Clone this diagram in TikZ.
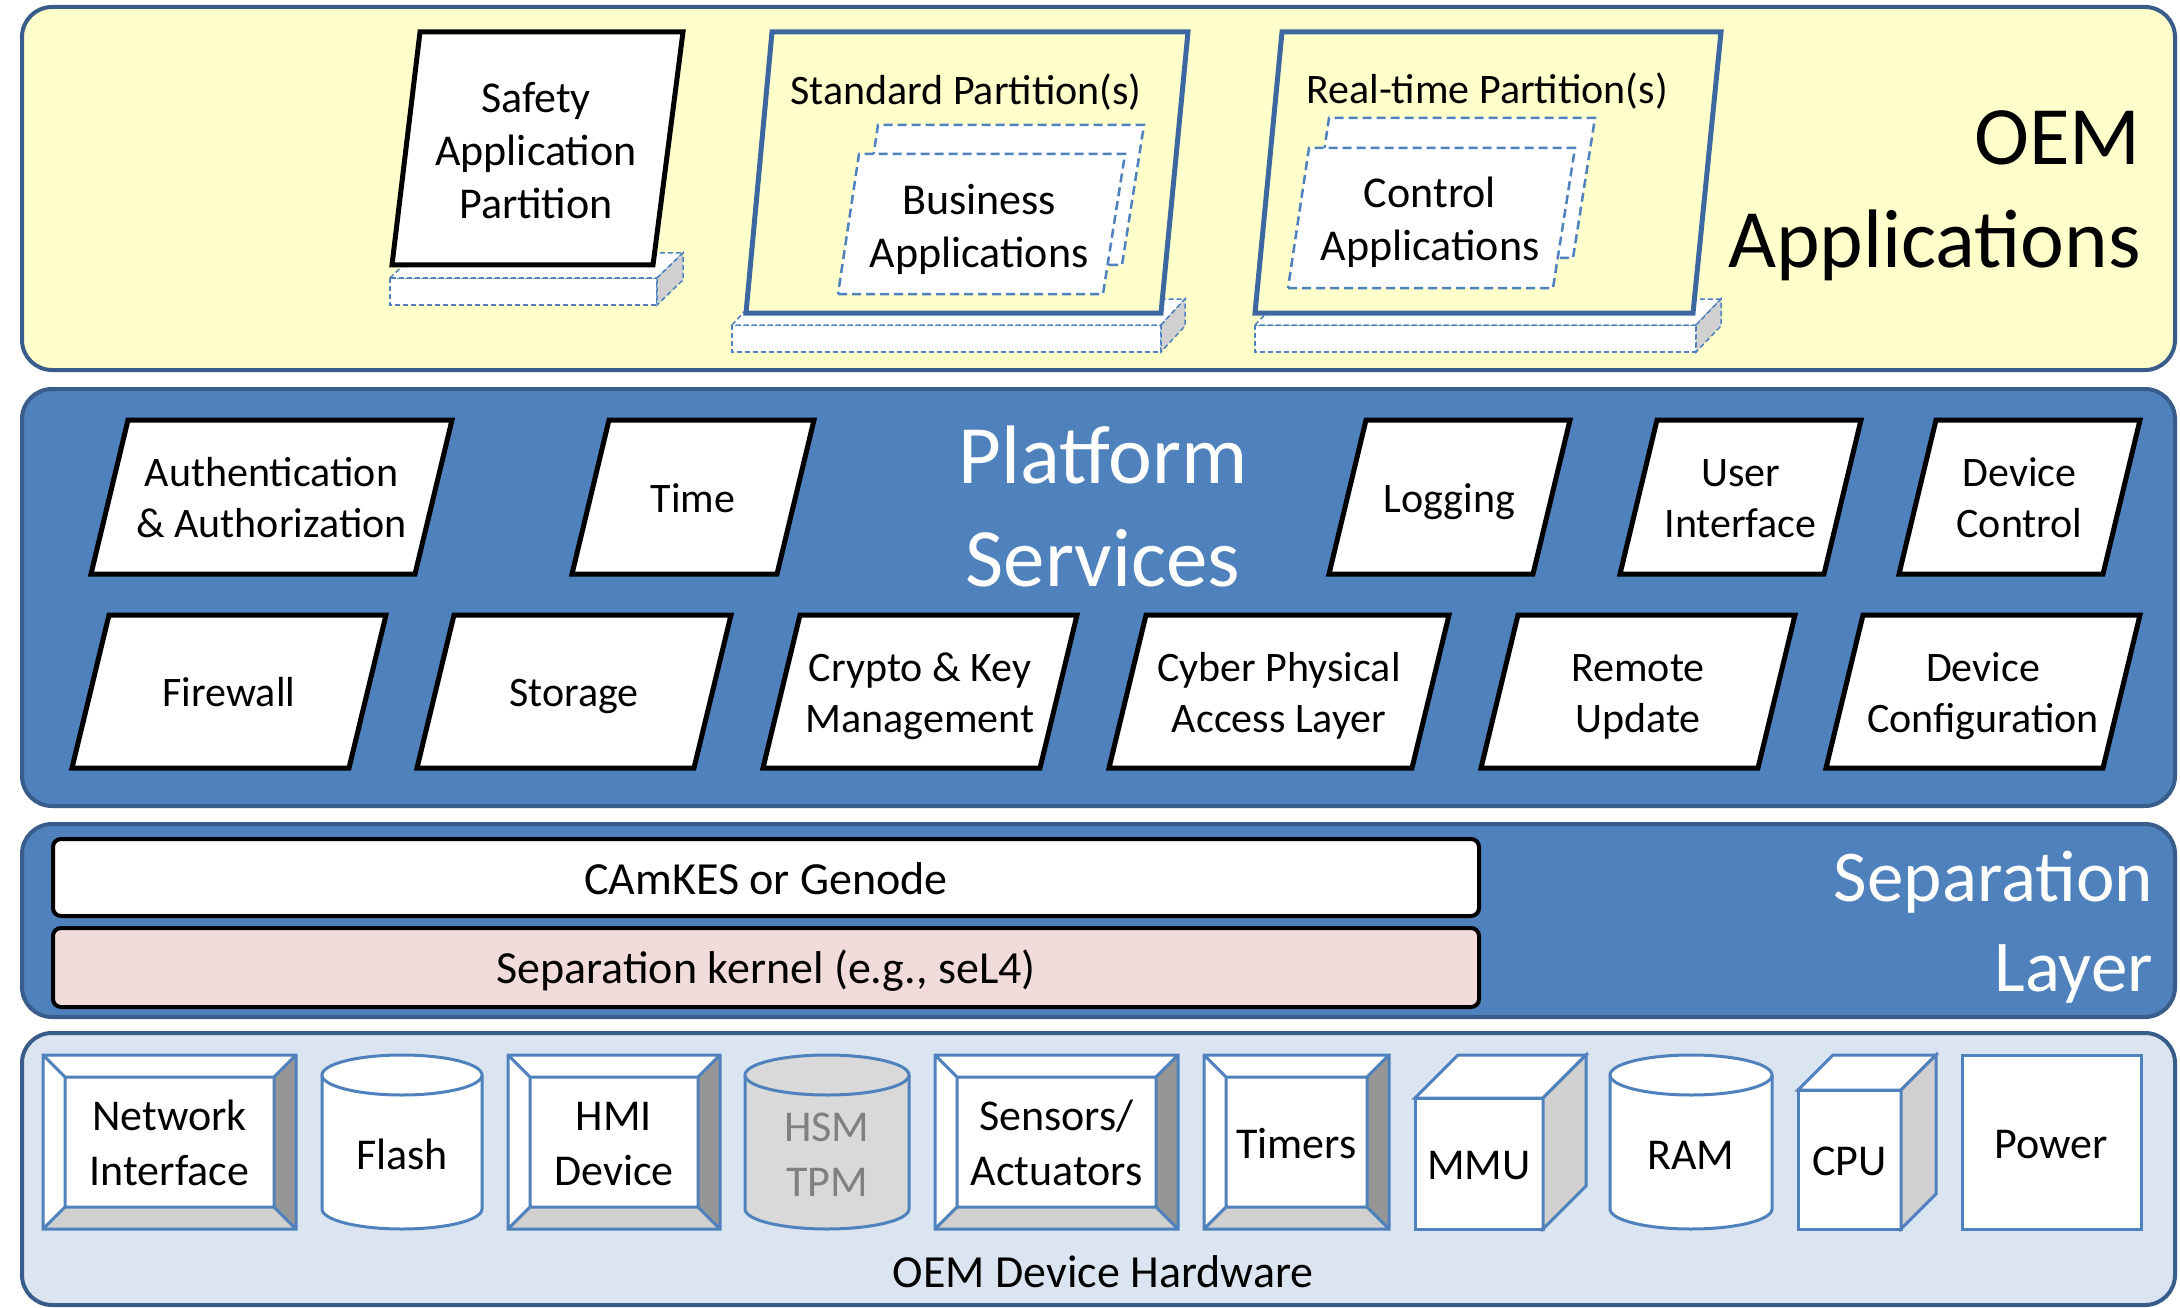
\documentclass[tikz,border=0pt]{standalone}
\usepackage{fontspec}
\setmainfont{Carlito}

\definecolor{oemyellow}{HTML}{FFFFCC}
\definecolor{layerblue}{HTML}{4F81BD}
\definecolor{layeredge}{HTML}{385D8A}
\definecolor{partedge}{HTML}{3D67A0}
\definecolor{hwfill}{HTML}{DBE5F1}
\definecolor{kernelpink}{HTML}{F2DCDB}
\definecolor{darkfacet}{HTML}{969696}
\definecolor{lightfacet}{HTML}{D0D0D0}
\definecolor{hsmgray}{HTML}{D9D9D9}
\definecolor{hsmtext}{HTML}{808080}

\tikzset{
  layer/.style={draw=layeredge, line width=4pt, rounded corners=30pt},
  svcbox/.style={draw=black, fill=white, line width=5pt, line join=miter},
  partbox/.style={line width=5pt, line join=miter},
  appbox/.style={draw=layerblue, fill=white, line width=2.5pt, dash pattern=on 9pt off 5pt},
  basebox/.style={draw=layerblue, line width=1.5pt, dash pattern=on 5pt off 3pt},
  hwline/.style={draw=layerblue, line width=3pt, line join=miter},
  sepbox/.style={draw=black, line width=4pt, rounded corners=8pt},
  svclbl/.style={inner sep=0pt, yshift=-5pt, align=center, font=\fontsize{42}{51}\selectfont},
  applbl/.style={inner sep=0pt, yshift=-4pt, align=center, font=\fontsize{44}{53}\selectfont},
  ttllbl/.style={inner sep=0pt, yshift=-4pt, align=center, font=\fontsize{42}{51}\selectfont},
  hwlbl/.style={inner sep=0pt, yshift=-5pt, align=center, font=\fontsize{44}{55}\selectfont},
  seplbl/.style={inner sep=0pt, yshift=-5pt, align=center, font=\fontsize{46}{55}\selectfont},
  biglbl/.style={inner sep=0pt, yshift=-4pt, font=\fontsize{83}{103}\selectfont},
}

% platform service: name, bottom-left x, width, top y, bottom y, text
\newcommand\svc[6]{%
  \draw[svcbox] (#2,#5) -- ({#2+#3},#5) -- ({#2+#3+37},#4) -- ({#2+37},#4) -- cycle;
  \node[svclbl] (#1) at ({#2+#3/2+18.5},{(#4+#5)/2}) {\strut #6};
}

% dashed pedestal: x1, x2, top y, bottom y, depth x, depth y
\newcommand\pedestal[6]{%
  \filldraw[basebox, fill=white] (#1,#3) rectangle (#2,#4);
  \filldraw[basebox, fill=white] (#1,#3) -- ({#1+#5},{#3-#6}) -- ({#2+#5},{#3-#6}) -- (#2,#3) -- cycle;
  \filldraw[basebox, fill=lightfacet] (#2,#3) -- ({#2+#5},{#3-#6}) -- ({#2+#5},{#4-#6}) -- (#2,#4) -- cycle;
}

% bevelled hardware block: name, x1, y1, x2, y2, text
\newcommand\bevel[6]{%
  \fill[white] (#2,#3) rectangle (#4,#5);
  \fill[darkfacet] (#4,#3) -- (#4,#5) -- ({#4-22},{#5-22}) -- ({#4-22},{#3+22}) -- cycle;
  \fill[lightfacet] (#2,#5) -- (#4,#5) -- ({#4-22},{#5-22}) -- ({#2+22},{#5-22}) -- cycle;
  \draw[hwline] (#2,#3) rectangle (#4,#5)
    ({#2+22},{#3+22}) rectangle ({#4-22},{#5-22})
    (#2,#3) -- ({#2+22},{#3+22})
    (#4,#3) -- ({#4-22},{#3+22})
    (#2,#5) -- ({#2+22},{#5-22})
    (#4,#5) -- ({#4-22},{#5-22});
  \node[hwlbl] (#1) at ({(#2+#4)/2},{(#3+#5)/2}) {\strut #6};
}

% cylinder: name, x1, x2, top y, bottom y, fill, text options, text
\newcommand\cyl[8]{%
  \pgfmathsetmacro\crx{(#3-#2)/2}
  \filldraw[hwline, fill=#6] (#2,{#4+20}) -- (#2,{#5-20})
    arc[start angle=180, end angle=360, x radius=\crx pt, y radius=20pt]
    -- (#3,{#4+20});
  \filldraw[hwline, fill=#6] ({(#2+#3)/2},{#4+20}) ellipse[x radius=\crx pt, y radius=20pt];
  \node[hwlbl, #7] (#1) at ({(#2+#3)/2},1153) {\strut #8};
}

% box seen in perspective: name, x1, front top y, x2, bottom y, depth, text
\newcommand\cube[7]{%
  \filldraw[hwline, fill=white] (#2,#3) rectangle (#4,#5);
  \filldraw[hwline, fill=white] (#2,#3) -- ({#2+#6},{#3-#6}) -- ({#4+#6},{#3-#6}) -- (#4,#3) -- cycle;
  \filldraw[hwline, fill=lightfacet] (#4,#3) -- ({#4+#6},{#3-#6}) -- ({#4+#6},{#5-#6}) -- (#4,#5) -- cycle;
  \node[hwlbl] (#1) at ({(#2+#4)/2},{(#3+#5)/2}) {\strut #7};
}

\begin{document}
\begin{tikzpicture}[x={(1pt,0pt)}, y={(0pt,-1pt)}]
\useasboundingbox[fill=white] (0,0) rectangle (2180,1308);

% ---------- layers ----------
\draw[layer, fill=oemyellow] (22,7) rectangle (2175,370);
\draw[layer, fill=layerblue] (22,389) rectangle (2175,806);
\draw[layer, fill=layerblue] (22,824) rectangle (2175,1017);
\draw[layer, fill=hwfill] (22,1033) rectangle (2175,1305);

% ---------- OEM applications ----------
\pedestal{390}{657}{278}{305}{26}{25}
\draw[partbox, draw=black, fill=white] (392,265) -- (653,265) -- (683,32) -- (420,32) -- cycle;
\node[applbl] (safety) at (536,151) {\strut Safety\\\strut Application\\\strut Partition};

\pedestal{732}{1161}{325}{352}{24}{26}
\draw[partbox, draw=partedge, fill=oemyellow] (746,313) -- (1161,313) -- (1188,32) -- (772,32) -- cycle;
\node[ttllbl] (stdtitle) at (966,90) {\strut Standard Partition(s)};
\draw[appbox] (857,265) -- (1122,265) -- (1144,125) -- (878,125) -- cycle;
\draw[appbox] (838,294) -- (1103,294) -- (1125,154) -- (859,154) -- cycle;
\node[applbl] (bizapp) at (979,226) {\strut Business\\\strut Applications};

\pedestal{1255}{1696}{325}{352}{25}{26}
\draw[partbox, draw=partedge, fill=oemyellow] (1255,313) -- (1693,313) -- (1721,32) -- (1282,32) -- cycle;
\node[ttllbl] (rttitle) at (1487,89) {\strut Real-time Partition(s)};
\draw[appbox] (1308,258) -- (1573,258) -- (1595,118) -- (1329,118) -- cycle;
\draw[appbox] (1288,288) -- (1553,288) -- (1575,148) -- (1309,148) -- cycle;
\node[applbl] (ctrlapp) at (1430,219) {\strut Control\\\strut Applications};

\node[biglbl, align=right, anchor=east] (oemtitle) at (2141,191) {\strut OEM\\\strut Applications};

% ---------- platform services ----------
\svc{auth}{91}{324}{420}{574}{Authentication\\\strut \& Authorization}
\svc{time}{572}{205}{420}{574}{Time}
\svc{logging}{1329}{204}{420}{574}{Logging}
\svc{ui}{1620}{204}{420}{574}{User\\\strut Interface}
\svc{devctrl}{1899}{204}{420}{574}{Device\\\strut Control}
\svc{firewall}{72}{277}{615}{768}{Firewall}
\svc{storage}{417}{277}{615}{768}{Storage}
\svc{crypto}{763}{277}{615}{768}{Crypto \& Key\\\strut Management}
\svc{cyber}{1109}{303}{615}{768}{Cyber Physical\\\strut Access Layer}
\svc{remote}{1481}{277}{615}{768}{Remote\\\strut Update}
\svc{devconf}{1826}{277}{615}{768}{Device\\\strut Configuration}
\node[biglbl, align=center, text=white] (pstitle) at (1103,510) {\strut Platform\\\strut Services};

% ---------- separation layer ----------
\draw[sepbox, fill=white] (53,839) rectangle (1479,916);
\node[seplbl] (camkes) at (766,878) {\strut CAmKES or Genode};
\draw[sepbox, fill=kernelpink] (53,928) rectangle (1479,1007);
\node[seplbl] (kernel) at (766,967) {\strut Separation kernel (e.g., seL4)};
\node[inner sep=0pt, yshift=-4pt, align=right, anchor=east, text=white, font=\fontsize{73}{90}\selectfont]
  (septitle) at (2153,924) {\strut Separation\\\strut Layer};

% ---------- hardware ----------
\bevel{netif}{43}{1055}{296}{1229}{Network\\\strut Interface}
\cyl{flash}{322}{482}{1055}{1229}{white}{}{Flash}
\bevel{hmi}{508}{1055}{720}{1229}{HMI\\\strut Device}
\cyl{hsm}{745}{909}{1055}{1229}{hsmgray}{text=hsmtext}{HSM\\\strut TPM}
\bevel{sensors}{935}{1055}{1178}{1229}{Sensors/\\\strut Actuators}
\bevel{timers}{1204}{1055}{1389}{1229}{Timers}
\cube{mmu}{1415}{1098}{1543}{1229}{43}{MMU}
\cyl{ram}{1610}{1772}{1055}{1229}{white}{}{RAM}
\cube{cpu}{1798}{1090}{1901}{1229}{35}{CPU}
\draw[hwline, fill=white] (1962,1055) rectangle (2141,1229);
\node[hwlbl] (power) at (2051,1142) {\strut Power};
\node[seplbl] (hwtitle) at (1103,1271) {\strut OEM Device Hardware};
\end{tikzpicture}
\end{document}
